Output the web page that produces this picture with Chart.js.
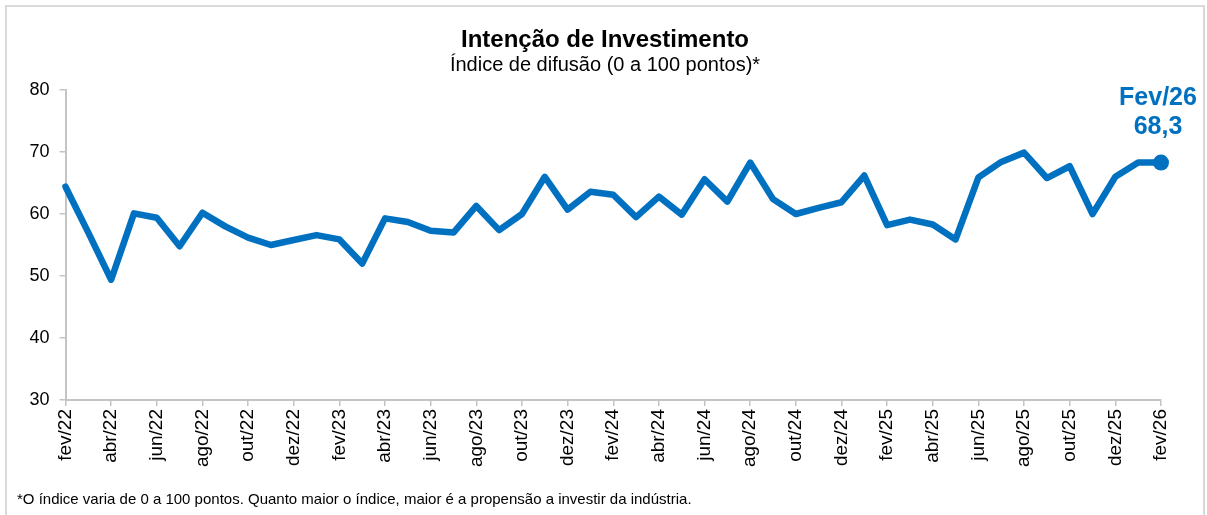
<!DOCTYPE html>
<html>
<head>
<meta charset="utf-8">
<script src="https://cdn.jsdelivr.net/npm/chart.js@4/dist/chart.umd.min.js"></script>
<style>
  html, body { margin: 0; padding: 0; background: #fff; }
  #wrap { width: 1207px; height: 515px; }
</style>
</head>
<body>
<div id="wrap"><canvas id="chart" width="1207" height="515"></canvas></div>
<script>
// ===============================
// DATA
// ===============================
const months = [
  'fev/22', 'mar/22', 'abr/22', 'mai/22', 'jun/22', 'jul/22', 'ago/22', 'set/22', 'out/22', 'nov/22', 'dez/22',
  'jan/23', 'fev/23', 'mar/23', 'abr/23', 'mai/23', 'jun/23', 'jul/23', 'ago/23', 'set/23', 'out/23', 'nov/23', 'dez/23',
  'jan/24', 'fev/24', 'mar/24', 'abr/24', 'mai/24', 'jun/24', 'jul/24', 'ago/24', 'set/24', 'out/24', 'nov/24', 'dez/24',
  'jan/25', 'fev/25', 'mar/25', 'abr/25', 'mai/25', 'jun/25', 'jul/25', 'ago/25', 'set/25', 'out/25', 'nov/25', 'dez/25',
  'jan/26', 'fev/26'
];

const intencao = [
  64.4, 57.0, 49.4, 60.1, 59.4, 54.8, 60.2, 58.0, 56.2, 55.0, 55.8,
  56.6, 55.9, 52.0, 59.3, 58.7, 57.3, 57.0, 61.3, 57.4, 60.0, 66.0, 60.7,
  63.6, 63.1, 59.5, 62.8, 59.9, 65.6, 62.0, 68.3, 62.4, 60.0, 61.0, 61.9,
  66.2, 58.2, 59.1, 58.3, 55.9, 65.9, 68.4, 69.9, 65.8, 67.7, 60.0, 66.0,
  68.3, 68.3
];

const yTicks = [30, 40, 50, 60, 70, 80];

const titleText = 'Intenção de Investimento';
const subtitleText = 'Índice de difusão (0 a 100 pontos)*';
const footnoteText = '*O índice varia de 0 a 100 pontos. Quanto maior o índice, maior é a propensão a investir da indústria.';

const BLUE = '#0070C0';
const AXIS = '#c4c4c4';
const FONT = '"Liberation Sans", Arial, sans-serif';

const last = intencao.length - 1;

// ===============================
// PLUGINS
// ===============================
// frame, titles and footnote (titles drawn here so they centre on the whole box)
const frame = {
  id: 'frame',
  beforeDraw(chart) {
    const ctx = chart.ctx;
    ctx.save();
    ctx.fillStyle = '#fff';
    ctx.fillRect(0, 0, chart.width, chart.height);
    ctx.strokeStyle = '#d9d9d9';
    ctx.lineWidth = 2;
    ctx.beginPath();
    ctx.moveTo(6, chart.height);
    ctx.lineTo(6, 6);
    ctx.lineTo(chart.width - 3, 6);
    ctx.lineTo(chart.width - 3, chart.height);
    ctx.stroke();
    ctx.restore();
  },
  afterDraw(chart) {
    const ctx = chart.ctx;
    const cx = (6 + chart.width - 3) / 2;
    ctx.save();
    ctx.fillStyle = '#000';
    ctx.textBaseline = 'middle';
    ctx.textAlign = 'center';
    ctx.font = 'bold 24px ' + FONT;
    ctx.fillText(titleText, cx, 40);
    ctx.font = '20px ' + FONT;
    ctx.fillText(subtitleText, cx, 65);
    ctx.font = '15px ' + FONT;
    ctx.textAlign = 'left';
    ctx.fillText(footnoteText, 17, 500);
    ctx.restore();
  }
};

const lastLabel = {
  id: 'lastLabel',
  afterDatasetsDraw(chart) {
    const pt = chart.getDatasetMeta(0).data[last];
    const ctx = chart.ctx;
    const m = months[last];
    ctx.save();
    ctx.fillStyle = BLUE;
    ctx.font = 'bold 25px ' + FONT;
    ctx.textAlign = 'center';
    ctx.textBaseline = 'middle';
    ctx.fillText(m.charAt(0).toUpperCase() + m.slice(1), pt.x - 3, pt.y - 64);
    ctx.fillText(intencao[last].toFixed(1).replace('.', ','), pt.x - 3, pt.y - 35);
    ctx.restore();
  }
};

// ===============================
// CHART
// ===============================
new Chart(document.getElementById('chart').getContext('2d'), {
  type: 'line',
  data: {
    labels: months,
    datasets: [{
      data: intencao,
      borderColor: BLUE,
      backgroundColor: BLUE,
      borderWidth: 6.5,
      borderJoinStyle: 'round',
      borderCapStyle: 'round',
      tension: 0,
      pointRadius: ctx => ctx.dataIndex === last ? 8 : 0,
      pointHoverRadius: 0,
      pointBorderWidth: 0
    }]
  },
  options: {
    responsive: false,
    animation: false,
    devicePixelRatio: 1,
    layout: { padding: { left: 0, right: 46, top: 90, bottom: 28 } },
    plugins: {
      legend: { display: false },
      tooltip: { enabled: false },
      title: { display: false },
      subtitle: { display: false }
    },
    scales: {
      x: {
        type: 'category',
        offset: false,
        afterFit(scale) { scale.height = 87; },
        grid: { drawOnChartArea: false, drawTicks: true, tickLength: 6, color: AXIS, lineWidth: 1.5 },
        border: { color: AXIS, width: 2 },
        ticks: {
          autoSkip: false,
          maxRotation: 90,
          minRotation: 90,
          padding: 3,
          color: '#000',
          font: { family: FONT, size: 19 },
          callback(value, index) { return index % 2 === 0 ? months[index] : null; }
        }
      },
      y: {
        min: yTicks[0],
        max: yTicks[yTicks.length - 1],
        afterFit(scale) { scale.width = 65.5; },
        afterBuildTicks(scale) { scale.ticks = yTicks.map(v => ({ value: v })); },
        grid: { drawOnChartArea: false, drawTicks: true, tickLength: 6, color: AXIS, lineWidth: 1.5 },
        border: { color: AXIS, width: 2 },
        ticks: {
          padding: 10,
          color: '#000',
          font: { family: FONT, size: 18 }
        }
      }
    }
  },
  plugins: [frame, lastLabel]
});
</script>
</body>
</html>
